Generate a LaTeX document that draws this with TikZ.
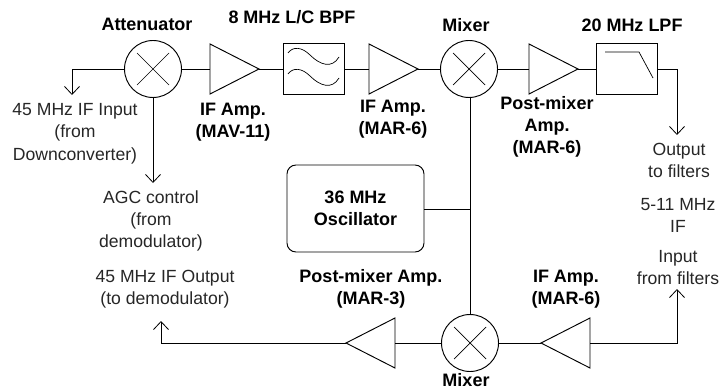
\documentclass[tikz,border=0pt]{standalone}
\usepackage{fontspec}
\setmainfont{Liberation Sans}
\usetikzlibrary{shapes.geometric,arrows.meta,calc}
\tikzset{
  line/.style={draw=black,line width=.95pt},
  lab/.style={font=\fontsize{17.6}{22}\selectfont,align=center,inner sep=0pt,text=black!85},
  blab/.style={font=\fontsize{18}{22}\selectfont\bfseries,align=center,inner sep=0pt},
  mixer/.style={circle,line,minimum size=57pt,inner sep=0pt,outer sep=0pt,
    path picture={\draw[line width=.7pt] ($(path picture bounding box.center)+(-16,-16)$) -- ($(path picture bounding box.center)+(16,16)$)
      ($(path picture bounding box.center)+(-16,16)$) -- ($(path picture bounding box.center)+(16,-16)$);}},
  amp/.style={isosceles triangle,isosceles triangle apex angle=54,isosceles triangle stretches,line,minimum width=50pt,minimum height=49pt,inner sep=0pt,outer sep=0pt,anchor=lower side},
  filt/.style={rectangle,line,minimum width=61pt,minimum height=51pt,inner sep=0pt,outer sep=0pt},
  conn/.style={line},
  arr/.style={line,-{Straight Barb[length=8pt,width=15pt,line width=.8pt]}}
}
\begin{document}
\begin{tikzpicture}[x=1pt,y=-1pt]
\useasboundingbox (0,0) rectangle (719,390);
% blocks
\node[mixer] (att) at (153,69) {};
\node[amp] (a1) at (210,69) {};
\node[filt] (bpf) at (313.5,69) {};
\node[amp] (a2) at (369,69) {};
\node[mixer] (mx1) at (469,69) {};
\node[amp] (a3) at (529,69) {};
\node[filt] (lpf) at (626.5,69) {};
\node[mixer] (mx2) at (470,343) {};
\node[amp,shape border rotate=180] (a4) at (590,343) {};
\node[amp,shape border rotate=180] (a5) at (395,343) {};
\node[rectangle,line,rounded corners=9pt,minimum width=137pt,minimum height=87pt,inner sep=0pt,outer sep=0pt,blab] (osc) at (355.5,208.5) {36 MHz\\Oscillator};
% filter symbols
\draw[line width=.7pt] (288,53) .. controls (293,46) and (302,47) .. (310,55) .. controls (320,65) and (332,69) .. (339,57);
\draw[line width=.7pt] (288,74) .. controls (293,67) and (302,68) .. (310,76) .. controls (320,86) and (332,90) .. (339,78);
\draw[line width=.7pt] (605,52) -- (639,52) -- (653,78);
% free ends and bends
\coordinate (inb) at (72,69);
\coordinate (ine) at (72,95);
\coordinate (agc) at (153,183);
\coordinate (outb) at (677,69);
\coordinate (oute) at (677,135);
\coordinate (jn) at (470,209);
\coordinate (ifb) at (677,343);
\coordinate (ife) at (677,289);
\coordinate (demb) at (161,343);
\coordinate (deme) at (161,321);
% connectors
\draw[arr] (att.west) -- (inb) -- (ine);
\draw[arr] (att.south) -- (agc);
\draw[conn] (att.east) -- (a1.lower side);
\draw[conn] (a1.apex) -- (bpf.west);
\draw[conn] (bpf.east) -- (a2.lower side);
\draw[conn] (a2.apex) -- (mx1.west);
\draw[conn] (mx1.east) -- (a3.lower side);
\draw[conn] (a3.apex) -- (lpf.west);
\draw[arr] (lpf.east |- outb) -- (outb) -- (oute);
\draw[conn] (mx1.south -| jn) -- (mx2.north);
\draw[conn] (osc.east |- jn) -- (jn);
\draw[arr] (a4.lower side) -- (ifb) -- (ife);
\draw[conn] (a4.apex) -- (mx2.east);
\draw[conn] (mx2.west) -- (a5.lower side);
\draw[arr] (a5.apex) -- (demb) -- (deme);
% labels
\node[blab] (t1) at (147,24) {Attenuator};
\node[blab] (t2) at (292,17) {8 MHz L/C BPF};
\node[blab] (t3) at (233,122.5) {IF Amp.\\(MAV-11)};
\node[blab] (t4) at (393,119.5) {IF Amp.\\(MAR-6)};
\node[blab] (t5) at (466,25) {Mixer};
\node[blab] (t6) at (632,25) {20 MHz LPF};
\node[blab] (t7) at (547,127) {Post-mixer\\Amp.\\(MAR-6)};
\node[blab] (t8) at (371,288.5) {Post-mixer Amp.\\(MAR-3)};
\node[blab] (t9) at (566,289) {IF Amp.\\(MAR-6)};
\node[blab] (t10) at (466,380.5) {Mixer};
\node[lab] (l1) at (75,134) {45 MHz IF Input\\(from\hspace*{14pt}\\[1pt]Downconverter)};
\node[lab] (l2) at (151,220.5) {AGC control\\(from\hspace*{12pt}\\demodulator)};
\node[lab] (l3) at (165,289.5) {45 MHz IF Output\\(to demodulator)};
\node[lab] (l4) at (679,160.5) {Output\\to filters};
\node[lab] (l5) at (678,215) {5-11 MHz\\IF};
\node[lab] (l6) at (678,267.5) {Input\\from filters};
\end{tikzpicture}
\end{document}
